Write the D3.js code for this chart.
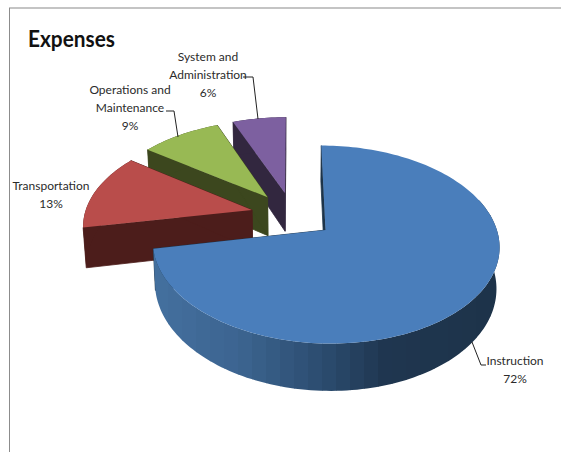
<!DOCTYPE html>
<html>
<head>
<meta charset="utf-8">
<script src="https://cdn.jsdelivr.net/npm/d3@7"></script>
<style>
html,body{margin:0;padding:0;background:#fff;}
svg{display:block;}
text{font-family:Lato,"Open Sans",sans-serif;fill:#2b2b2b;}
</style>
</head>
<body>
<svg id="chart" width="561" height="452"></svg>
<script>
// Expense categories and their shares of the total, in percent.
const categories = ["Instruction", "Transportation", "Operations and Maintenance", "System and Administration"];
const shares = [72, 13, 9, 6];
const topColors = ["#4a7ebb", "#b94d4b", "#98b954", "#7d60a0"];
const cutColors = ["#1d3449", "#4c1d1b", "#3c471e", "#32273f"];
const title = "Expenses";

const width = 561, height = 452;
const svg = d3.select("#chart");
const defs = svg.append("defs");

// Perspective view of a tilted disc: unit-disc coordinates map onto the page.
const centre = {x: 292.5, y: 215};
const xView = d3.scaleLinear().domain([-1, 1]).range([centre.x - 167.5, centre.x + 167.5]);
const yView = d3.scaleLinear().domain([-1, 1]).range([centre.y - 92.5, centre.y + 92.5]);
const perspective = 0.143;
const depth = 39.5;      // extrusion of the disc at unit perspective
const shrink = 0.985;    // far face is slightly narrower
const explode = 0.25;    // every slice is pulled out by this fraction of the radius

function project(u, v, z) {
  const w = 1 - perspective * v;
  const x = (xView(u / w) - centre.x) * (z ? shrink : 1) + centre.x;
  const y = yView(v / w) + (z ? depth / w : 0);
  return [x, y];
}

const pie = d3.pie().sort(null).value(d => d).startAngle(0).endAngle(2 * Math.PI);
const arcs = pie(shares);
const line = d3.line();

function rimPoint(a, mid, z) {
  const ox = explode * Math.sin(mid), oy = -explode * Math.cos(mid);
  return project(ox + Math.sin(a), oy - Math.cos(a), z);
}
function apex(mid, z) {
  return project(explode * Math.sin(mid), -explode * Math.cos(mid), z);
}
function rimSteps(a0, a1, step) {
  const n = Math.max(2, Math.ceil((a1 - a0) / step));
  return d3.range(n + 1).map(i => a0 + (a1 - a0) * i / n);
}

// Wall shading of the large slice, stepping across the page in vertical bands.
const sideShade = d3.scaleLinear()
  .domain([150, 240, 320, 385, 500])
  .range(["#44709f", "#3c6490", "#2c4d70", "#1f3650", "#1d3349"]);
const bandWidth = 14;

// Painter's order: slices further back first, the large front slice last.
const order = [3, 2, 1, 0];
order.forEach(i => {
  const d = arcs[i];
  const mid = (d.startAngle + d.endAngle) / 2;
  const g = svg.append("g").attr("class", "slice").attr("data-name", categories[i]);

  // Cut faces along the two radial edges.
  [d.startAngle, d.endAngle].forEach(a => {
    g.append("path")
      .attr("d", line([apex(mid, 0), rimPoint(a, mid, 0), rimPoint(a, mid, 1), apex(mid, 1)]) + "Z")
      .attr("fill", cutColors[i])
      .attr("stroke", cutColors[i]).attr("stroke-width", 0.8);
  });

  // Curved outer wall between the top rim and the bottom rim.
  const angles = rimSteps(d.startAngle, d.endAngle, 1.5 * Math.PI / 180);
  const wall = line([
    ...angles.map(a => rimPoint(a, mid, 0)),
    ...angles.slice().reverse().map(a => rimPoint(a, mid, 1))
  ]) + "Z";
  if (i === 0) {
    const clipId = "wall-clip";
    defs.append("clipPath").attr("id", clipId).append("path").attr("d", wall);
    const bands = g.append("g").attr("clip-path", `url(#${clipId})`);
    bands.selectAll("rect")
      .data(d3.range(140, 510, bandWidth))
      .join("rect")
      .attr("x", x => x).attr("y", 200).attr("width", bandWidth + 0.5).attr("height", 210)
      .attr("fill", x => sideShade(x + bandWidth / 2));
  } else {
    g.append("path").attr("d", wall).attr("fill", cutColors[i]);
  }

  // Top face.
  const rim = angles.map(a => rimPoint(a, mid, 0));
  g.append("path")
    .attr("d", line([apex(mid, 0), ...rim]) + "Z")
    .attr("fill", topColors[i]);
});

// Chart frame: only the top and left borders reach the page.
svg.append("line").attr("x1", 9).attr("x2", 561).attr("y1", 8).attr("y2", 8)
  .attr("stroke", "#b0b0b0").attr("stroke-width", 1.5);
svg.append("line").attr("x1", 9.5).attr("x2", 9.5).attr("y1", 8).attr("y2", 452)
  .attr("stroke", "#8c8c8c").attr("stroke-width", 1);

svg.append("text").attr("x", 28).attr("y", 47).attr("font-size", 23).attr("font-weight", 700)
  .attr("textLength", 87).attr("lengthAdjust", "spacingAndGlyphs")
  .style("fill", "#111").text(title);

// Callout labels.
const labelLayout = [
  {lines: ["Instruction"], x: 515, y: 365, leader: [[472, 342], [481, 365], [486, 365]]},
  {lines: ["Transportation"], x: 51, y: 190, leader: null},
  {lines: ["Operations and", "Maintenance"], x: 130, y: 94, leader: [[166, 111], [174, 111], [178, 137]]},
  {lines: ["System and", "Administration"], x: 208, y: 61, leader: [[243, 77], [253, 77], [258, 119]]}
];
labelLayout.forEach((l, i) => {
  const t = svg.append("text").attr("text-anchor", "middle").attr("font-size", 12);
  [...l.lines, shares[i] + "%"].forEach((s, k) => {
    t.append("tspan").attr("x", l.x).attr("y", l.y + k * 18).text(s);
  });
  if (l.leader) {
    svg.append("path").attr("d", line(l.leader)).attr("fill", "none").attr("stroke", "#222").attr("stroke-width", 1);
  }
});
</script>
</body>
</html>
